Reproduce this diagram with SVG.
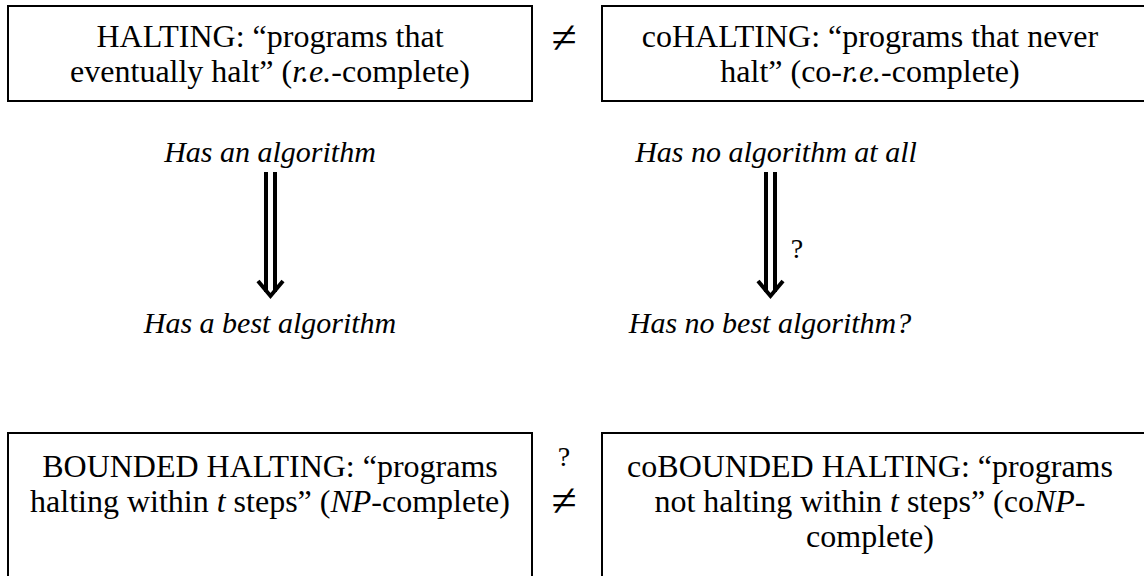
<svg xmlns="http://www.w3.org/2000/svg" width="1144" height="576" viewBox="0 0 1144 576">
<style>
.box{fill:#fff;stroke:#000;stroke-width:2}
.t{font-family:"Liberation Serif","Times New Roman",serif;font-size:32px;fill:#000;text-anchor:middle}
.it{font-style:italic}
.neq{font-family:"Liberation Serif","Times New Roman",serif;font-size:46px;fill:#000;text-anchor:middle}
.q{font-family:"Liberation Serif","Times New Roman",serif;font-size:28px;fill:#000;text-anchor:middle}
.lbl{font-family:"Liberation Serif","Times New Roman",serif;font-size:30px;font-style:italic;fill:#000;text-anchor:middle}
.sh{stroke:#000;stroke-width:4;fill:none}
.hd{stroke:#000;stroke-width:4;fill:none;stroke-linejoin:miter;stroke-linecap:butt}
</style>
<rect width="1144" height="576" fill="#fff"/>
<g id="halting">
<rect class="box" x="8" y="6" width="524" height="95"/>
<text class="t" x="270" y="47">HALTING: “programs that</text>
<text class="t" x="270" y="82">eventually halt” (<tspan class="it">r.e.</tspan>-complete)</text>
</g>
<g id="cohalting">
<rect class="box" x="602" y="6" width="560" height="95"/>
<text class="t" x="870" y="47">coHALTING: “programs that never</text>
<text class="t" x="870" y="82">halt” (co-<tspan class="it">r.e.</tspan>-complete)</text>
</g>
<g id="neq-top"><text class="neq" x="564" y="53">≠</text></g>
<g id="has-alg"><text class="lbl" x="270" y="162">Has an algorithm</text></g>
<g id="has-no-alg"><text class="lbl" x="776" y="162">Has no algorithm at all</text></g>
<g id="has-best"><text class="lbl" x="270" y="333">Has a best algorithm</text></g>
<g id="has-no-best"><text class="lbl" x="770" y="333">Has no best algorithm?</text></g>
<g id="bounded">
<rect class="box" x="8" y="433" width="524" height="160"/>
<text class="t" x="270" y="477">BOUNDED HALTING: “programs</text>
<text class="t" x="270" y="512">halting within <tspan class="it">t</tspan> steps” (<tspan class="it">NP</tspan>-complete)</text>
</g>
<g id="cobounded">
<rect class="box" x="602" y="433" width="560" height="160"/>
<text class="t" x="870" y="477">coBOUNDED HALTING: “programs</text>
<text class="t" x="870" y="512">not halting within <tspan class="it">t</tspan> steps” (co<tspan class="it">NP</tspan>-</text>
<text class="t" x="870" y="547">complete)</text>
</g>
<g id="neq-bottom">
<text class="q" x="564" y="466">?</text>
<text class="neq" x="564" y="516">≠</text>
</g>
<g id="connectors">
<line class="sh" x1="266" y1="172" x2="266" y2="292"/>
<line class="sh" x1="275" y1="172" x2="275" y2="292"/>
<polyline class="hd" points="258,281 270.5,296 283,281"/>
<line class="sh" x1="766" y1="172" x2="766" y2="292"/>
<line class="sh" x1="775" y1="172" x2="775" y2="292"/>
<polyline class="hd" points="758,281 770.5,296 783,281"/>
<text class="q" x="797" y="258">?</text>
</g>
</svg>
